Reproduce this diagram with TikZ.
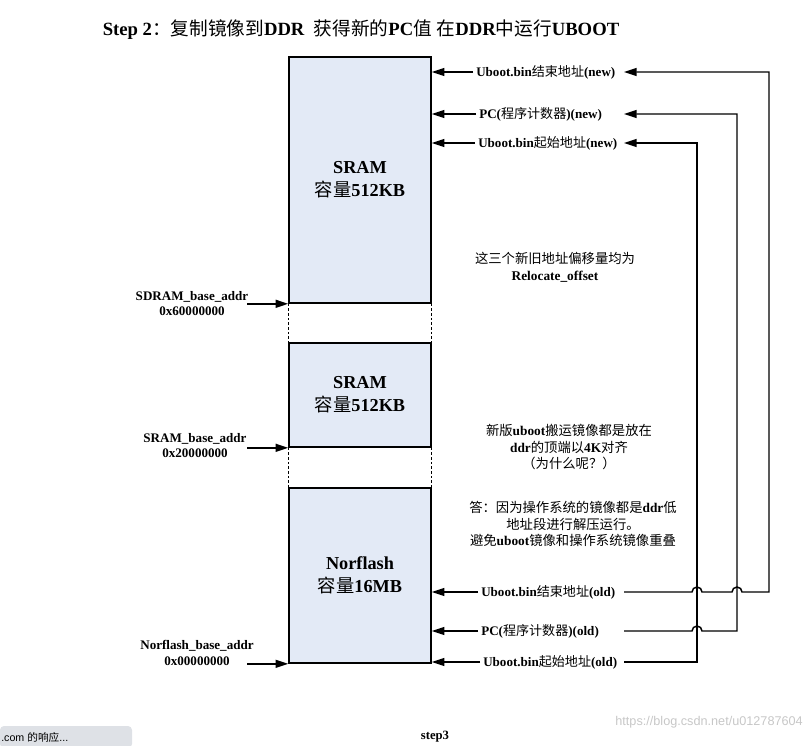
\documentclass[tikz,border=0pt]{standalone}
\usepackage{fontspec}
\setmainfont{Liberation Serif}
\newfontfamily\cjk{Noto Sans CJK SC}
\newfontfamily\websans{Liberation Sans}
\usetikzlibrary{arrows.meta,positioning,calc}
\definecolor{MemFill}{HTML}{E3EAF6}
\definecolor{StatusGray}{HTML}{DEE1E6}
\newcommand{\zh}[1]{{\cjk\mdseries #1}}

\begin{document}
\begin{tikzpicture}[x=0.75pt,y=-0.75pt,
    membox/.style={draw, line width=1.2pt, fill=MemFill, inner sep=0pt,
      minimum width=106.5pt, align=center, font=\fontsize{13.7}{17.2}\selectfont\bfseries},
    addr/.style={align=center, inner sep=0pt, font=\fontsize{9.8}{11.6}\selectfont\bfseries},
    ptr/.style={anchor=west, inner sep=2.25pt, font=\fontsize{9.8}{11.6}\selectfont\bfseries},
    note/.style={align=center, inner sep=0pt, font=\fontsize{10}{12.4}\selectfont\bfseries},
    arr/.style={line width=1.1pt, -{Triangle[length=9.5pt,width=6pt]}},
    conn/.style={line width=1.1pt},
    gapline/.style={line width=0.9pt, dash pattern=on 2pt off 1.5pt}]

  \useasboundingbox (0,0) rectangle (809,745);

  % title
  \node[font=\fontsize{14}{16}\selectfont\bfseries] (title) at (361,30)
    {Step 2\zh{：复制镜像到}DDR\ \ \zh{获得新的}PC\zh{值} \zh{在}DDR\zh{中运行}UBOOT};

  % memory map
  \node[membox, minimum height=184.5pt] (ddr) at (360,180) {SRAM\\\zh{容量}512KB};
  \node[membox, minimum height=78pt] (sram) at (360,395) {SRAM\\\zh{容量}512KB};
  \node[membox, minimum height=131.25pt] (nor) at (360,575.5) {Norflash\\\zh{容量}16MB};
  \draw[gapline] (ddr.south west) -- (sram.north west);
  \draw[gapline] (ddr.south east) -- (sram.north east);
  \draw[gapline] (sram.south west) -- (nor.north west);
  \draw[gapline] (sram.south east) -- (nor.north east);

  % base addresses
  \coordinate (lft) at (247,0);
  \node[addr] (sdramlab) at (192,303.5) {SDRAM\_base\_addr\\0x60000000};
  \node[addr] (sramlab) at (195,445.5) {SRAM\_base\_addr\\0x20000000};
  \node[addr] (norlab) at (197,653) {Norflash\_base\_addr\\0x00000000};
  \draw[arr] (lft |- ddr.south west) -- (ddr.south west);
  \draw[arr] (lft |- sram.south west) -- (sram.south west);
  \draw[arr] (lft |- nor.south west) -- (nor.south west);

  % pointers, new
  \node[ptr] (endnew) at (473,72) {Uboot.bin\zh{结束地址}(new)};
  \node[ptr] (pcnew) at (476,114) {PC(\zh{程序计数器})(new)};
  \node[ptr] (startnew) at (475,143) {Uboot.bin\zh{起始地址}(new)};
  % pointers, old
  \node[ptr] (endold) at (478,592) {Uboot.bin\zh{结束地址}(old)};
  \node[ptr] (pcold) at (478,631) {PC(\zh{程序计数器})(old)};
  \node[ptr] (startold) at (480,662) {Uboot.bin\zh{起始地址}(old)};

  \foreach \p in {endnew,pcnew,startnew}
    \draw[arr] (\p.west) -- (\p.west -| ddr.east);
  \foreach \p in {endold,pcold,startold}
    \draw[arr] (\p.west) -- (\p.west -| nor.east);

  % relocation routes
  \coordinate (tipx) at (624,0);
  \coordinate (rs) at (697,0);
  \coordinate (rp) at (737,0);
  \coordinate (re) at (769,0);
  \draw[conn, arr] (tipx |- startold.east) -- (rs |- startold.east) |- (tipx |- startnew.east);
  \draw[conn, arr] (tipx |- pcold.east) -- ([xshift=-3.75pt]rs |- pcold.east)
    arc[start angle=180, end angle=0, radius=3.75pt]
    -- (rp |- pcold.east) |- (tipx |- pcnew.east);
  \draw[conn, arr] (tipx |- endold.east) -- ([xshift=-3.75pt]rs |- endold.east)
    arc[start angle=180, end angle=0, radius=3.75pt]
    -- ([xshift=-3.75pt]rp |- endold.east)
    arc[start angle=180, end angle=0, radius=3.75pt]
    -- (re |- endold.east) |- (tipx |- endnew.east);

  % notes
  \node[note] (offset) at (555,267.5) {\zh{这三个新旧地址偏移量均为}\\Relocate\_offset};
  \node[note] (top4k) at (569,447) {\zh{新版}uboot\zh{搬运镜像都是放在}\\ddr\zh{的顶端以}4K\zh{对齐}\\\zh{（为什么呢？）}};
  \node[note] (answer) at (573,524) {\zh{答：因为操作系统的镜像都是}ddr\zh{低}\\\zh{地址段进行解压运行。}\\\zh{避免}uboot\zh{镜像和操作系统镜像重叠}};

  % caption and page leftovers
  \node[font=\fontsize{9.5}{11}\selectfont\bfseries] (caption) at (435,737) {step3};
  \node[anchor=east, inner sep=0pt, text=black!22, font=\websans\fontsize{9.5}{11}\selectfont] (mark) at (803,722)
    {https://blog.csdn.net/u012787604};
  \fill[StatusGray, rounded corners=3pt] (0,726) rectangle (132,748);
  \node[anchor=west, inner sep=0pt, font=\websans\fontsize{8}{10}\selectfont] (status) at (1,737)
    {.com \zh{的响应}...};
\end{tikzpicture}
\end{document}
